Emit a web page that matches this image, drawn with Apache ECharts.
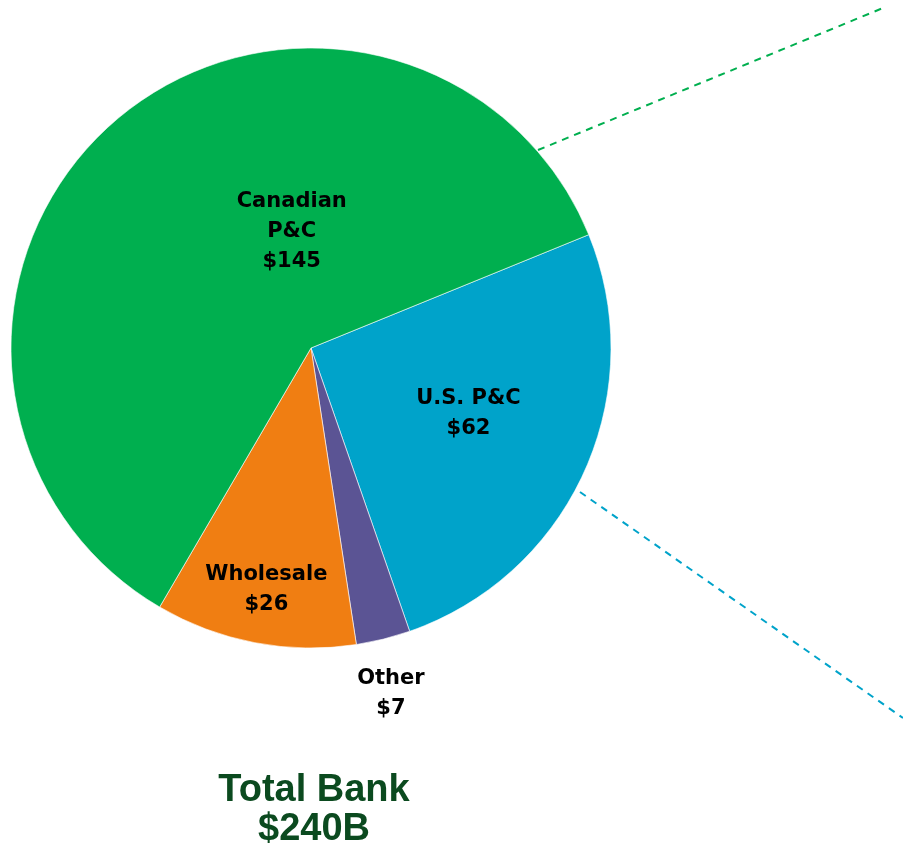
<!DOCTYPE html>
<html>
<head>
<meta charset="utf-8">
<script src="https://cdn.jsdelivr.net/npm/echarts@6/dist/echarts.min.js"></script>
<style>
  html, body { margin: 0; padding: 0; background: #fff; }
  #chart { width: 903px; height: 845px; }
</style>
</head>
<body>
<div id="chart"></div>
<script>
// segment data ($B), listed clockwise from the Canadian / U.S. boundary
const segNames = ['U.S. P&C', 'Other', 'Wholesale', 'Canadian\nP&C'];
const segValues = [62, 7, 26, 145];
const segColors = ['#00A3CA', '#5B5494', '#F07E12', '#00AF4F'];
// label nudges from the default inside spot
const labelShift = [[18, 3], [43, 197], [-16, 91], [81, -1]];
const totalText = 'Total Bank\n$240B';

const chart = echarts.init(document.getElementById('chart'), null, { renderer: 'canvas' });

const pieData = [];
for (let i = 0; i < segNames.length; i++) {
  pieData.push({
    name: segNames[i],
    value: segValues[i],
    itemStyle: { color: segColors[i] }
  });
}

const option = {
  animation: false,
  title: {
    text: totalText,
    left: 309,
    top: 766,
    textAlign: 'center',
    textStyle: {
      fontFamily: 'Liberation Sans',
      fontWeight: 'bold',
      fontSize: 38,
      lineHeight: 39,
      color: '#0B4A1F'
    }
  },
  graphic: [
    {
      type: 'line',
      shape: { x1: 538, y1: 150, x2: 883, y2: 8 },
      style: { stroke: '#00AF4F', lineWidth: 2, lineDash: [7, 6] }
    },
    {
      type: 'line',
      shape: { x1: 580, y1: 492, x2: 903, y2: 718 },
      style: { stroke: '#00A3CA', lineWidth: 2, lineDash: [7, 6] }
    }
  ],
  series: [{
    type: 'pie',
    center: [311, 348],
    radius: [0, 300],
    startAngle: 22.2,
    clockwise: true,
    silent: true,
    itemStyle: { borderColor: '#fff', borderWidth: 0.6 },
    label: {
      show: true,
      position: 'inside',
      formatter: function (p) { return p.name + '\n$' + p.value; },
      fontFamily: 'DejaVu Sans',
      fontWeight: 'bold',
      fontSize: 21,
      lineHeight: 30,
      color: '#000'
    },
    labelLine: { show: false },
    labelLayout: function (p) {
      const s = labelShift[p.dataIndex];
      return { dx: s[0], dy: s[1] };
    },
    data: pieData
  }]
};

chart.setOption(option);
</script>
</body>
</html>
